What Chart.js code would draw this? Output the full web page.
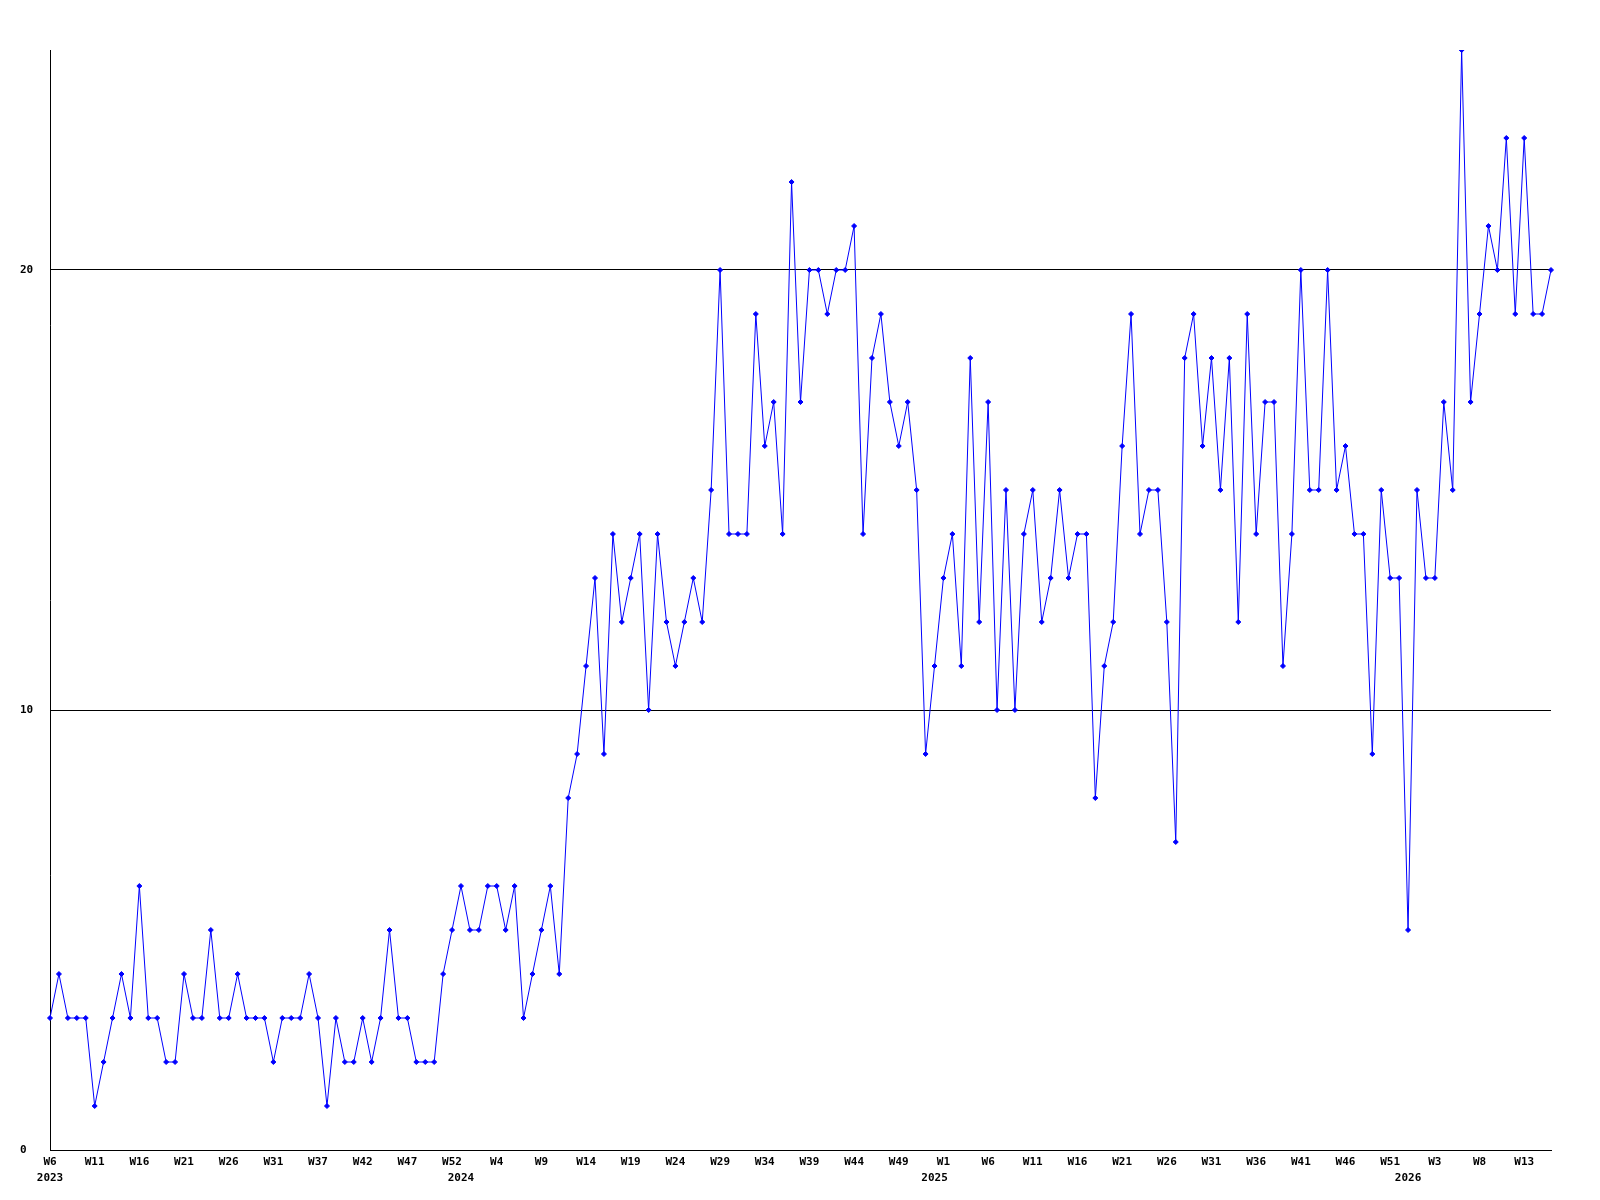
<!DOCTYPE html>
<html lang="en">
  <head>
    <meta charset="UTF-8" />
    <title>Weekly count</title>
    <script src="https://cdn.jsdelivr.net/npm/chart.js"></script>
    <style>
      html,
      body {
        margin: 0;
        padding: 0;
        background: #ffffff;
      }
    </style>
  </head>
  <body>
    <div style="width: 1600px; height: 1200px">
      <canvas id="weekly"></canvas>
    </div>

    <script>
      // one value per week, 2023 W6 onwards
      const counts = [
        3, 4, 3, 3, 3, 1, 2, 3, 4, 3,
        6, 3, 3, 2, 2, 4, 3, 3, 5, 3,
        3, 4, 3, 3, 3, 2, 3, 3, 3, 4,
        3, 1, 3, 2, 2, 3, 2, 3, 5, 3,
        3, 2, 2, 2, 4, 5, 6, 5, 5, 6,
        6, 5, 6, 3, 4, 5, 6, 4, 8, 9,
        11, 13, 9, 14, 12, 13, 14, 10, 14, 12,
        11, 12, 13, 12, 15, 20, 14, 14, 14, 19,
        16, 17, 14, 22, 17, 20, 20, 19, 20, 20,
        21, 14, 18, 19, 17, 16, 17, 15, 9, 11,
        13, 14, 11, 18, 12, 17, 10, 15, 10, 14,
        15, 12, 13, 15, 13, 14, 14, 8, 11, 12,
        16, 19, 14, 15, 15, 12, 7, 18, 19, 16,
        18, 15, 18, 12, 19, 14, 17, 17, 11, 14,
        20, 15, 15, 20, 15, 16, 14, 14, 9, 15,
        13, 13, 5, 15, 13, 13, 17, 15, 25, 17,
        19, 21, 20, 23, 19, 23, 19, 19, 20,
      ];

      // week label shown on every 5th point
      const weekTicks = [
        "W6", "W11", "W16", "W21", "W26", "W31", "W37", "W42", "W47", "W52",
        "W4", "W9", "W14", "W19", "W24", "W29", "W34", "W39", "W44", "W49",
        "W1", "W6", "W11", "W16", "W21", "W26", "W31", "W36", "W41", "W46",
        "W51", "W3", "W8", "W13",
      ];
      const tickEvery = 5;

      // year row under the weeks
      const yearNames = ["2023", "2024", "2025", "2026"];
      const yearAt = [0, 46, 99, 152];

      const yTicks = [0, 10, 20];

      const labels = counts.map((v, i) =>
        i % tickEvery === 0 ? weekTicks[i / tickEvery] : ""
      );

      const tickFont = {
        family: "'DejaVu Sans Mono', 'Liberation Mono', monospace",
        size: 11,
        weight: "bold",
      };

      const ctx = document.getElementById("weekly").getContext("2d");

      new Chart(ctx, {
        type: "line",
        data: {
          labels: labels,
          datasets: [
            {
              data: counts,
              borderColor: "#0000ff",
              backgroundColor: "#0000ff",
              borderWidth: 1,
              tension: 0,
              fill: false,
              pointStyle: "rectRot",
              pointRadius: 2.5,
              pointBorderWidth: 1,
              pointHoverRadius: 2.5,
            },
          ],
        },
        options: {
          responsive: true,
          maintainAspectRatio: false,
          animation: false,
          layout: {
            padding: { left: 20, right: 49, top: 50, bottom: 0 },
          },
          plugins: {
            legend: { display: false },
            tooltip: { enabled: false },
          },
          scales: {
            x: {
              type: "category",
              position: "bottom",
              offset: false,
              grid: { display: false, drawTicks: false },
              border: { display: true, color: "#000000", width: 1 },
              ticks: {
                autoSkip: false,
                maxRotation: 0,
                minRotation: 0,
                padding: 6,
                color: "#000000",
                font: tickFont,
              },
              afterFit: (scale) => {
                scale.height = 22;
              },
            },
            x2: {
              type: "category",
              position: "bottom",
              offset: false,
              grid: { display: false, drawTicks: false },
              border: { display: false },
              ticks: {
                autoSkip: false,
                maxRotation: 0,
                minRotation: 0,
                padding: 0,
                color: "#000000",
                font: tickFont,
                callback: (value, index) => {
                  const k = yearAt.indexOf(index);
                  return k >= 0 ? yearNames[k] : "";
                },
              },
              afterFit: (scale) => {
                scale.height = 28;
              },
            },
            y: {
              min: 0,
              max: 25,
              grid: {
                color: "#000000",
                lineWidth: 1,
                drawTicks: false,
              },
              border: { display: true, color: "#000000", width: 1 },
              afterBuildTicks: (scale) => {
                scale.ticks = yTicks.map((v) => ({ value: v }));
              },
              ticks: {
                crossAlign: "far",
                padding: 0,
                color: "#000000",
                font: tickFont,
              },
              afterFit: (scale) => {
                scale.width = 30;
              },
            },
          },
        },
      });
    </script>
  </body>
</html>
